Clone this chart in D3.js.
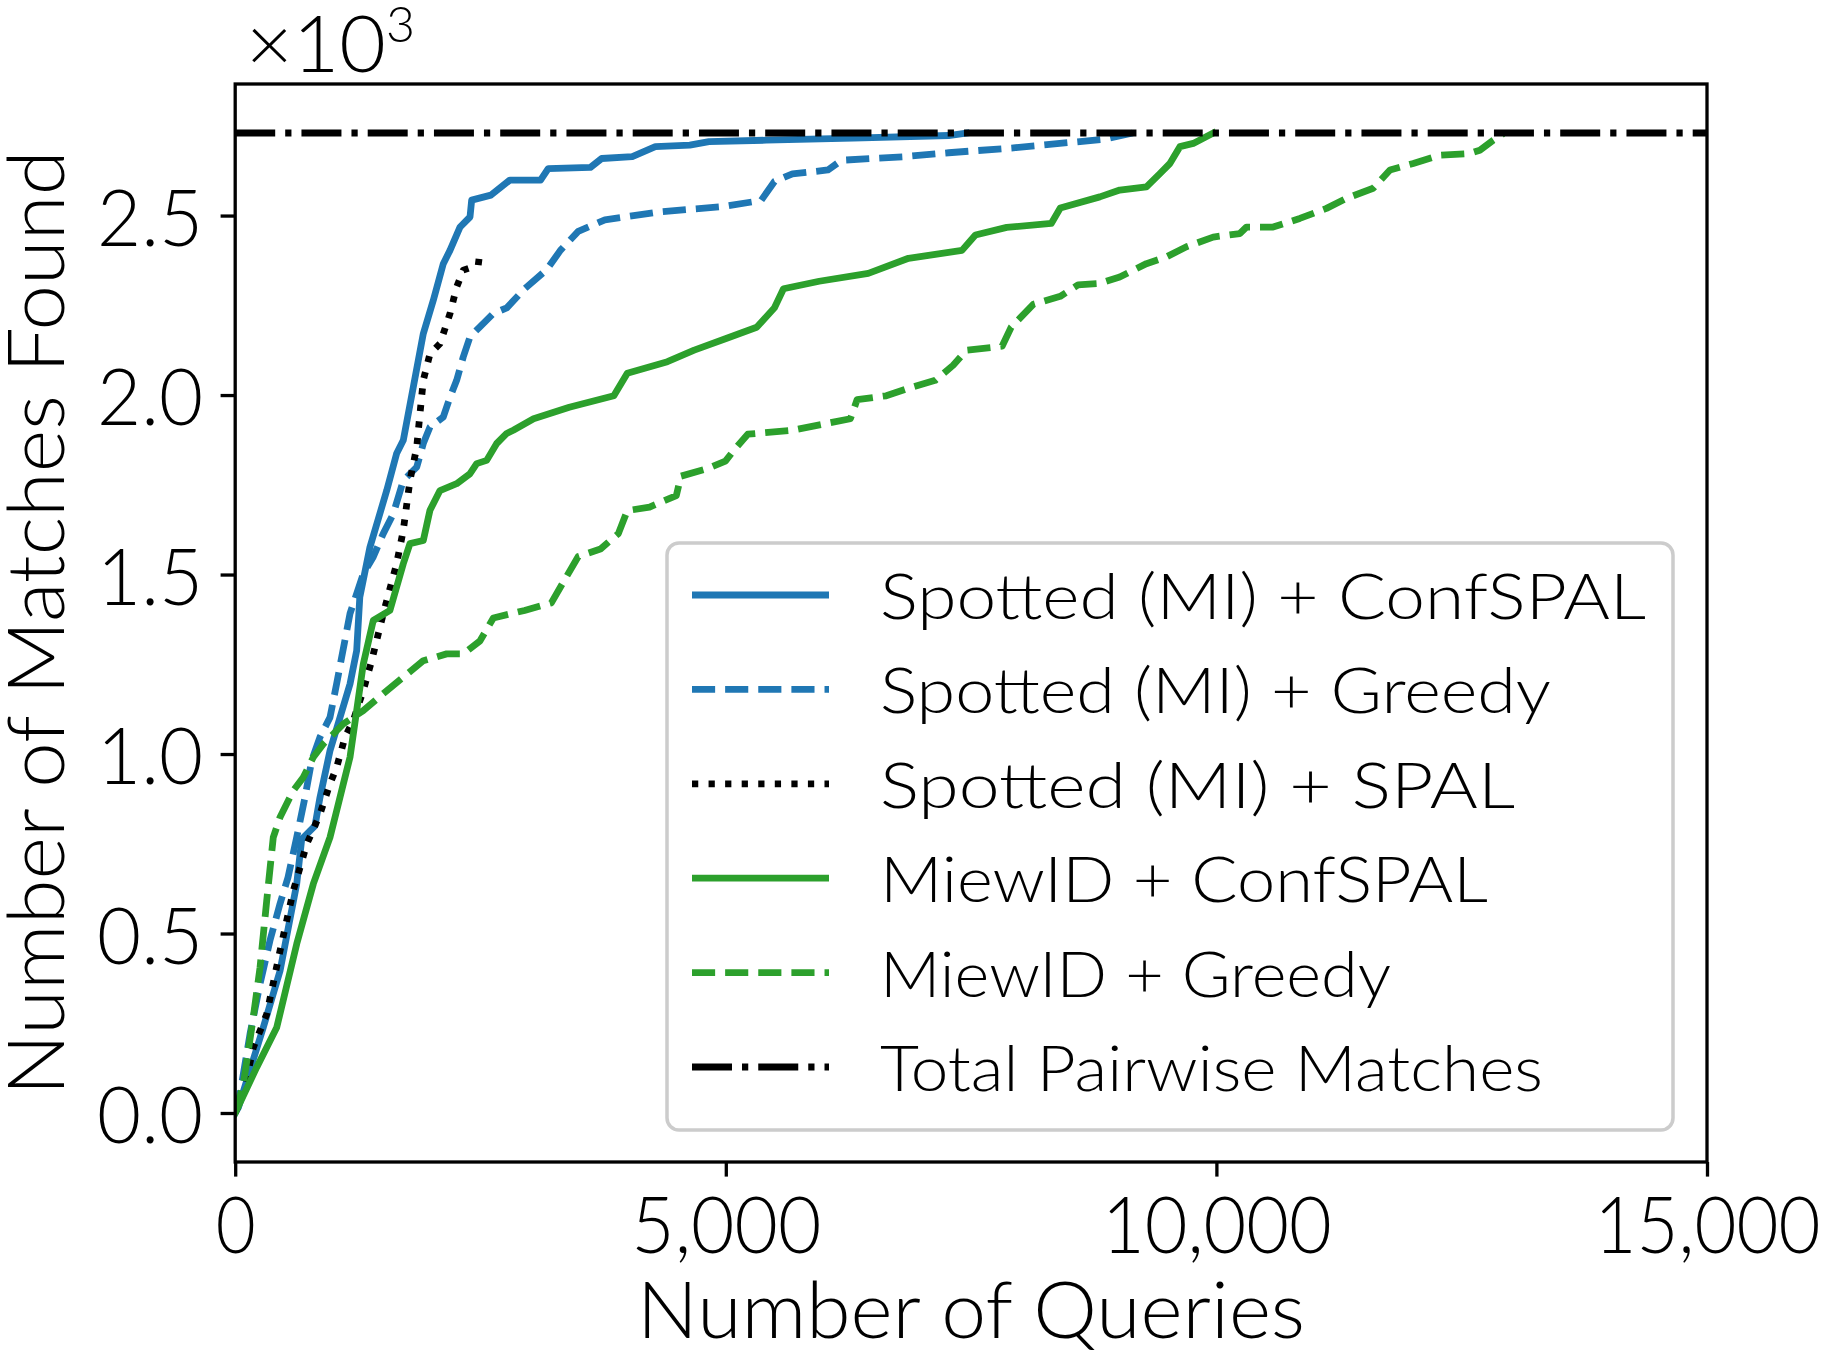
<!DOCTYPE html>
<html><head><meta charset="utf-8">
<script src="https://cdn.jsdelivr.net/npm/d3@7"></script>
<style>
body{margin:0;background:#fff}
text{font-family:Lato,"Open Sans","DejaVu Sans",sans-serif;font-weight:300;fill:#000}
</style>
</head><body>
<svg id="chart" width="1826" height="1354"></svg>
<script>
// ---------------- data ----------------
const xTickValues = [0, 5000, 10000, 15000];
const xTickLabels = ["0", "5,000", "10,000", "15,000"];
const yTickValues = [0, 500, 1000, 1500, 2000, 2500];
const yTickLabels = ["0.0", "0.5", "1.0", "1.5", "2.0", "2.5"];
const seriesNames = ["Spotted (MI) + ConfSPAL", "Spotted (MI) + Greedy", "Spotted (MI) + SPAL",
                     "MiewID + ConfSPAL", "MiewID + Greedy", "Total Pairwise Matches"];
const totalPairwiseMatches = 2730;

const spottedConfSpalQueries = [0, 32, 286, 457, 627, 678, 813, 864, 966, 1068, 1170, 1238, 1270, 1373, 1544, 1645, 1713, 1815, 1917, 2019, 2121, 2189, 2291, 2393, 2410, 2606, 2800, 3112, 3190, 3619, 3735, 4047, 4282, 4633, 4828, 5413, 6300, 7271, 7450];
const spottedConfSpalMatches = [0, 15, 238, 396, 638, 763, 800, 879, 1009, 1102, 1195, 1288, 1437, 1576, 1734, 1837, 1874, 2022, 2171, 2264, 2366, 2403, 2468, 2496, 2543, 2557, 2599, 2599, 2631, 2634, 2659, 2664, 2692, 2696, 2706, 2710, 2716, 2723, 2730];

const spottedGreedyQueries = [0, 49, 151, 253, 354, 457, 538, 627, 711, 780, 864, 966, 1034, 1098, 1170, 1305, 1407, 1509, 1611, 1713, 1850, 1917, 1985, 2121, 2189, 2257, 2324, 2393, 2494, 2630, 2768, 2949, 3177, 3314, 3496, 3768, 4314, 4996, 5360, 5496, 5679, 6041, 6179, 6815, 7271, 7953, 8864, 9150];
const spottedGreedyMatches = [0, 53, 220, 360, 480, 583, 656, 768, 879, 982, 1047, 1102, 1196, 1288, 1391, 1502, 1549, 1614, 1669, 1762, 1799, 1865, 1911, 1939, 1994, 2041, 2106, 2162, 2190, 2227, 2243, 2296, 2350, 2403, 2456, 2488, 2510, 2526, 2542, 2595, 2616, 2627, 2654, 2664, 2675, 2689, 2713, 2730];

const spottedSpalQueries = [0, 83, 184, 321, 457, 592, 729, 864, 966, 1034, 1119, 1203, 1305, 1391, 1509, 1645, 1713, 1781, 1850, 1883, 1917, 1985, 2087, 2189, 2257, 2324, 2477, 2494];
const spottedSpalMatches = [0, 53, 182, 275, 452, 619, 749, 833, 917, 963, 1047, 1093, 1177, 1260, 1391, 1530, 1623, 1762, 1855, 1948, 2041, 2115, 2143, 2227, 2301, 2348, 2362, 2399];

const miewConfSpalQueries = [0, 219, 423, 627, 796, 966, 1034, 1102, 1170, 1238, 1305, 1407, 1577, 1645, 1713, 1781, 1917, 1985, 2087, 2257, 2393, 2461, 2563, 2665, 2767, 2834, 3041, 3405, 3859, 3996, 4405, 4678, 4996, 5315, 5496, 5588, 5952, 6452, 6862, 7407, 7544, 7863, 8317, 8409, 8812, 9015, 9287, 9424, 9526, 9628, 9764, 9967];
const miewConfSpalMatches = [0, 127, 238, 471, 638, 768, 842, 917, 991, 1121, 1250, 1372, 1400, 1465, 1530, 1586, 1595, 1679, 1734, 1753, 1781, 1809, 1818, 1865, 1893, 1902, 1934, 1966, 1998, 2061, 2093, 2125, 2157, 2189, 2243, 2296, 2317, 2339, 2381, 2403, 2446, 2467, 2478, 2521, 2552, 2571, 2580, 2617, 2645, 2692, 2701, 2730];

const miewGreedyQueries = [0, 83, 184, 253, 321, 388, 457, 592, 694, 796, 898, 1102, 1305, 1509, 1713, 1917, 2155, 2324, 2494, 2631, 2949, 3222, 3359, 3496, 3722, 3905, 3996, 4223, 4496, 4542, 4815, 4996, 5088, 5224, 5679, 6270, 6338, 6635, 6862, 7135, 7317, 7453, 7816, 7908, 8136, 8409, 8590, 8812, 9015, 9287, 9491, 9695, 9967, 10239, 10307, 10578, 10850, 11122, 11326, 11598, 11769, 12006, 12277, 12583, 12685, 12821, 12923];
const miewGreedyMatches = [0, 80, 266, 405, 591, 768, 824, 898, 935, 991, 1028, 1084, 1121, 1168, 1214, 1260, 1279, 1279, 1315, 1379, 1400, 1421, 1486, 1550, 1571, 1614, 1678, 1688, 1720, 1774, 1795, 1816, 1848, 1891, 1902, 1934, 1987, 1998, 2019, 2041, 2083, 2125, 2136, 2189, 2253, 2275, 2307, 2311, 2329, 2366, 2385, 2413, 2440, 2450, 2468, 2468, 2492, 2520, 2548, 2576, 2627, 2645, 2668, 2673, 2682, 2710, 2728];

const totalQueries = [0, 15000];
const totalMatches = [totalPairwiseMatches, totalPairwiseMatches];

// ---------------- layout ----------------
const L = 235.2, R = 1707, T = 84, B = 1162;
const LW = 6.8;
const svg = d3.select("#chart");

const x = d3.scaleLinear().domain([0, 15000]).range([L, R]);
const yMin = 0, yMax = totalPairwiseMatches, pad = 0.05 * (yMax - yMin);
const y = d3.scaleLinear().domain([yMin - pad, yMax + pad]).range([B, T]);

svg.append("rect").attr("x", 0).attr("y", 0).attr("width", 1826).attr("height", 1354).attr("fill", "#fff");

svg.append("defs").append("clipPath").attr("id", "plotclip")
  .append("rect").attr("x", L).attr("y", T).attr("width", R - L).attr("height", B - T);

const series = [
  {qs: spottedConfSpalQueries, ms: spottedConfSpalMatches, color: "#1f77b4", dash: null},
  {qs: spottedGreedyQueries, ms: spottedGreedyMatches, color: "#1f77b4", dash: [3.7, 1.6]},
  {qs: spottedSpalQueries, ms: spottedSpalMatches, color: "#000000", dash: [1, 1.65]},
  {qs: miewConfSpalQueries, ms: miewConfSpalMatches, color: "#2ca02c", dash: null},
  {qs: miewGreedyQueries, ms: miewGreedyMatches, color: "#2ca02c", dash: [3.7, 1.6]},
  {qs: totalQueries, ms: totalMatches, color: "#000000", dash: [6.4, 1.6, 1, 1.6]}
];
const DU = 6.25;
const dashStr = d => d ? d.map(v => (v * DU).toFixed(2)).join(",") : null;

const line = d3.line().x(d => x(d[0])).y(d => y(d[1]));
const gLines = svg.append("g").attr("clip-path", "url(#plotclip)");
series.forEach(s => {
  const pts = s.qs.map((q, i) => [q, s.ms[i]]);
  gLines.append("path").datum(pts)
    .attr("d", line)
    .attr("fill", "none")
    .attr("stroke", s.color)
    .attr("stroke-width", LW)
    .attr("stroke-linejoin", "round")
    .attr("stroke-linecap", s.dash ? "butt" : "square")
    .attr("stroke-dasharray", dashStr(s.dash));
});

// axes
const tickLen = 14.6, spineW = 3.3;
const FS = 79.5;
const xAxis = d3.axisBottom(x).tickValues(xTickValues).tickFormat((d, i) => xTickLabels[i]).tickSize(tickLen).tickPadding(0);
const gx = svg.append("g").attr("transform", `translate(0,${B})`).call(xAxis);
gx.select(".domain").remove();
gx.selectAll(".tick line").attr("stroke", "#000").attr("stroke-width", spineW);
const xLabelWidths = [40, 190, 230, 226];
gx.selectAll(".tick text")
  .attr("y", 1253 - B).attr("dy", null)
  .attr("font-size", FS).attr("text-anchor", "middle")
  .attr("textLength", (d, i) => xLabelWidths[i]).attr("lengthAdjust", "spacingAndGlyphs");

const yAxis = d3.axisLeft(y).tickValues(yTickValues).tickFormat((d, i) => yTickLabels[i]).tickSize(tickLen).tickPadding(0);
const gy = svg.append("g").attr("transform", `translate(${L},0)`).call(yAxis);
gy.select(".domain").remove();
gy.selectAll(".tick line").attr("stroke", "#000").attr("stroke-width", spineW);
gy.selectAll(".tick text")
  .attr("x", 203 - L).attr("dy", null).attr("y", 29.5)
  .attr("font-size", FS).attr("text-anchor", "end")
  .attr("textLength", 106).attr("lengthAdjust", "spacingAndGlyphs");

// spines
svg.append("rect").attr("x", L).attr("y", T).attr("width", R - L).attr("height", B - T)
  .attr("fill", "none").attr("stroke", "#000").attr("stroke-width", spineW);

// axis labels
svg.append("text").attr("x", (L + R) / 2).attr("y", 1338).attr("text-anchor", "middle")
  .attr("font-size", FS).attr("textLength", 668).attr("lengthAdjust", "spacingAndGlyphs")
  .text("Number of Queries");
svg.append("text").attr("transform", `translate(64,${(T + B) / 2}) rotate(-90)`).attr("text-anchor", "middle")
  .attr("font-size", 78).attr("textLength", 945).attr("lengthAdjust", "spacingAndGlyphs")
  .text("Number of Matches Found");

// offset text x10^3
const off = svg.append("text").attr("x", 246).attr("y", 72).attr("font-size", FS);
off.append("tspan").text("×10").attr("textLength", 140).attr("lengthAdjust", "spacingAndGlyphs");
off.append("tspan").attr("x", 386).attr("y", 42).attr("font-size", 50).text("3");

// legend
const lg = svg.append("g");
const lgL = 667, lgT = 543, lgR = 1673, lgB = 1130;
lg.append("rect").attr("x", lgL).attr("y", lgT).attr("width", lgR - lgL).attr("height", lgB - lgT)
  .attr("rx", 12).attr("ry", 12)
  .attr("fill", "#fff").attr("fill-opacity", 0.8)
  .attr("stroke", "#cccccc").attr("stroke-width", 3.5);
const legendTextWidths = [766, 671, 635, 608, 511, 663];
const LFS = 64;
series.forEach((s, i) => {
  const cy = 595 + i * 94.4;
  lg.append("line").attr("x1", 692).attr("x2", 829).attr("y1", cy).attr("y2", cy)
    .attr("stroke", s.color).attr("stroke-width", LW)
    .attr("stroke-dasharray", dashStr(s.dash));
  lg.append("text").attr("x", 880).attr("y", cy + 24).attr("font-size", LFS)
    .attr("textLength", legendTextWidths[i]).attr("lengthAdjust", "spacingAndGlyphs")
    .text(seriesNames[i]);
});
</script>
</body></html>
